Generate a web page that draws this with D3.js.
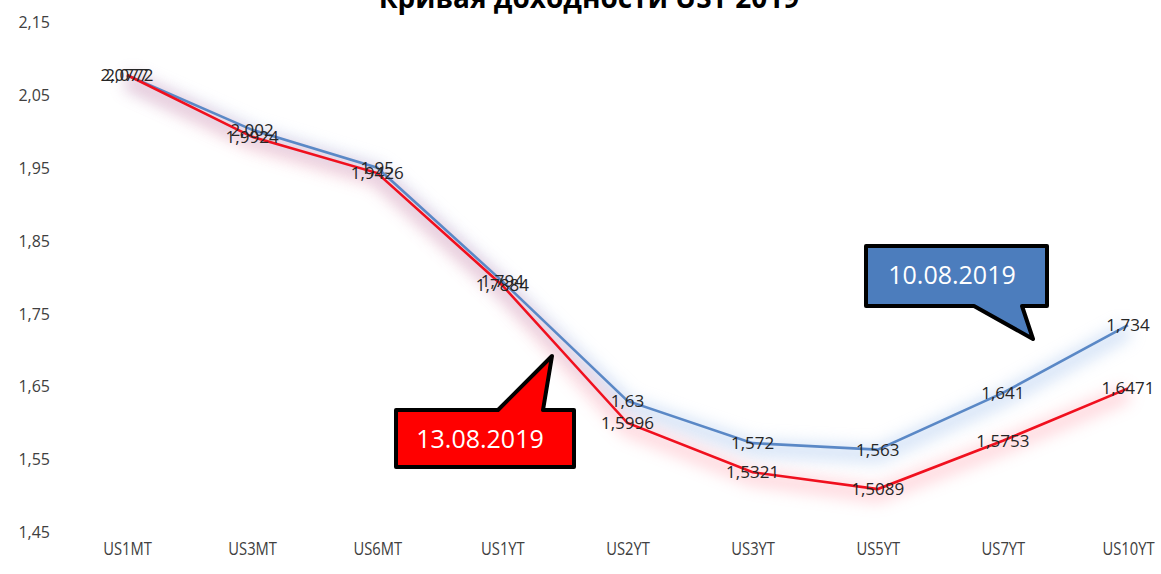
<!DOCTYPE html>
<html lang="ru">
  <head>
    <meta charset="utf-8">
    <script src="https://d3js.org/d3.v7.min.js"></script>
    <title>Кривая доходности UST 2019</title>
    <style>
      body { margin: 0; background: #fff; }
      text { font-family: "Open Sans", "Noto Sans", sans-serif; }
    </style>
  </head>
  <body>
    <script>

    // tenors on the curve
    var tenors = ["US1MT", "US3MT", "US6MT", "US1YT", "US2YT", "US3YT", "US5YT", "US7YT", "US10YT"];
    // yields 10.08.2019
    var aug10 = [2.077, 2.002, 1.95, 1.794, 1.63, 1.572, 1.563, 1.641, 1.734];
    // yields 13.08.2019
    var aug13 = [2.0772, 1.9924, 1.9426, 1.7884, 1.5996, 1.5321, 1.5089, 1.5753, 1.6471];
    var yTicks = [1.45, 1.55, 1.65, 1.75, 1.85, 1.95, 2.05, 2.15];

    var width = 1161, height = 574;

    var svg = d3.select("body").append("svg")
        .attr("width", width)
        .attr("height", height);

    var x = d3.scalePoint()
        .domain(tenors)
        .range([127, 1128]);

    var y = d3.scaleLinear()
        .domain([1.45, 2.15])
        .range([532, 22]);

    var fmt = function(v) { return String(v).replace(".", ","); };

    // soft glow under the lines
    var defs = svg.append("defs");
    defs.append("filter").attr("id", "glow")
        .attr("x", "-10%").attr("y", "-30%").attr("width", "120%").attr("height", "160%")
      .append("feGaussianBlur").attr("in", "SourceGraphic").attr("stdDeviation", 8);

    // title (cut off at the top, as in the source)
    svg.append("text")
        .attr("x", 589).attr("y", 8)
        .attr("text-anchor", "middle")
        .style("font-size", "28px")
        .style("font-weight", "bold")
        .attr("fill", "#000")
        .text("Кривая доходности UST 2019");

    // y axis, labels only
    var yAxis = svg.append("g")
        .attr("transform", "translate(50,0)")
        .call(d3.axisLeft(y).tickValues(yTicks).tickSize(0).tickPadding(0)
          .tickFormat(function(d) { return d3.format(".2f")(d).replace(".", ","); }));
    yAxis.select(".domain").remove();
    yAxis.selectAll("text")
        .style("font-size", "16px")
        .attr("fill", "#404040")
        .attr("dy", "0.35em");

    // x axis, labels only (narrowed to look like Calibri)
    var xAxis = svg.append("g")
        .attr("transform", "translate(0,549)")
        .call(d3.axisBottom(x).tickSize(0).tickPadding(0));
    xAxis.select(".domain").remove();
    xAxis.selectAll("text")
        .style("font-size", "18px")
        .attr("fill", "#404040")
        .attr("dy", "0.35em")
        .attr("transform", "scale(0.82,1)");

    var line = d3.line()
        .x(function(d, i) { return x(tenors[i]); })
        .y(function(d) { return y(d); });

    // glows
    svg.append("path").datum(aug10)
        .attr("d", line)
        .attr("transform", "translate(0,5)")
        .attr("fill", "none")
        .attr("stroke", "#a9c6ee")
        .attr("stroke-width", 16)
        .attr("opacity", 0.5)
        .attr("filter", "url(#glow)");
    svg.append("path").datum(aug13)
        .attr("d", line)
        .attr("transform", "translate(0,5)")
        .attr("fill", "none")
        .attr("stroke", "#ff9aa8")
        .attr("stroke-width", 16)
        .attr("opacity", 0.4)
        .attr("filter", "url(#glow)");

    // lines
    svg.append("path").datum(aug10)
        .attr("d", line)
        .attr("fill", "none")
        .attr("stroke", "#5a88c6")
        .attr("stroke-width", 2.6);
    svg.append("path").datum(aug13)
        .attr("d", line)
        .attr("fill", "none")
        .attr("stroke", "#f0101e")
        .attr("stroke-width", 2.6);

    // data labels, centred on the points
    function labels(data) {
      svg.append("g").selectAll("text")
          .data(data)
          .enter().append("text")
          .attr("x", function(d, i) { return x(tenors[i]); })
          .attr("y", function(d) { return y(d); })
          .attr("dy", "0.35em")
          .attr("text-anchor", "middle")
          .style("font-size", "17px")
          .attr("fill", "#262626")
          .text(fmt);
    }
    labels(aug10);
    labels(aug13);

    // callouts
    function callout(pts, fill, label, tx, ty) {
      svg.append("path")
          .attr("d", "M" + pts.join("L") + "Z")
          .attr("fill", fill)
          .attr("stroke", "#000")
          .attr("stroke-width", 4)
          .attr("stroke-linejoin", "round");
      svg.append("text")
          .attr("x", tx).attr("y", ty)
          .attr("dy", "0.35em")
          .attr("text-anchor", "middle")
          .style("font-size", "25px")
          .attr("fill", "#fff")
          .text(label);
    }

    // 10.08.2019 box, tail pointing down to the blue curve
    callout([[866, 246], [1047, 246], [1047, 306], [1022, 306], [1033, 339], [974, 306], [866, 306]],
            "#4c7dbd", "10.08.2019", 952, 275);

    // 13.08.2019 box, tail pointing up to the red curve
    callout([[396, 410], [498, 410], [552, 356], [543, 410], [574, 410], [574, 467], [396, 467]],
            "#ff0000", "13.08.2019", 480, 439);

    </script>
  </body>
</html>
